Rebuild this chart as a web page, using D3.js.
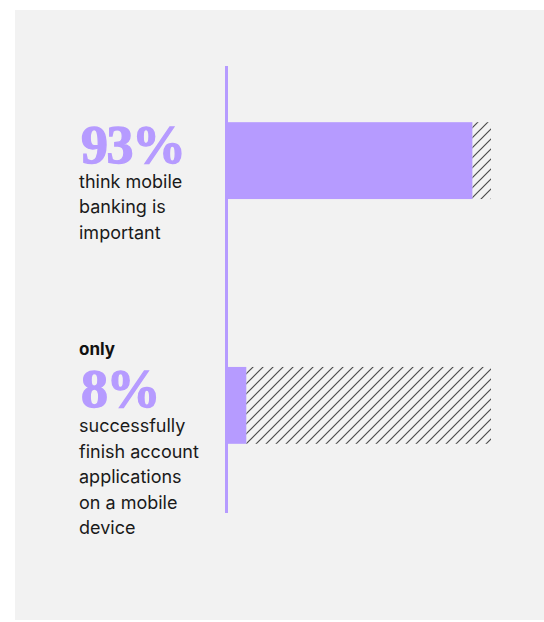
<!DOCTYPE html>
<html lang="en">
  <head>
    <meta charset="utf-8" />
    <title>Mobile banking</title>
    <script src="https://d3js.org/d3.v7.js"></script>
    <style>
      body { margin: 0; background: #fff; }
      text { font-family: Inter, "Noto Sans", sans-serif; }
      text.big { font-family: "Liberation Serif", "DejaVu Serif", serif; }
    </style>
  </head>
  <body>
    <div id="graph"></div>
    <script>

    // chart values
    var rows = ["important", "finish"];
    var percents = [93, 8];
    var prefixes = ["", "only"];
    var captions = [
      ["think mobile", "banking is", "important"],
      ["successfully", "finish account", "applications", "on a mobile", "device"]
    ];

    var w = 544, h = 622;
    var purple = "#b69bff";

    var svg = d3.select("#graph")
      .append("svg")
        .attr("width", w)
        .attr("height", h);

    // hatch pattern for the remainder of each bar
    var defs = svg.append("defs");
    var pat = defs.append("pattern")
      .attr("id", "hatch")
      .attr("patternUnits", "userSpaceOnUse")
      .attr("width", 10)
      .attr("height", 10);
    pat.append("path")
      .attr("d", "M-1,1 l2,-2 M0,10 l10,-10 M9,11 l2,-2")
      .attr("stroke", "#4a4a4a")
      .attr("stroke-width", 1.2);

    // gray panel
    svg.append("rect")
      .attr("x", 15)
      .attr("y", 10)
      .attr("width", w - 15)
      .attr("height", 610)
      .attr("fill", "#f2f2f2");

    // scales
    var x = d3.scaleLinear()
      .domain([0, 100])
      .range([225, 491]);

    var y = d3.scaleBand()
      .domain(rows)
      .range([61, 505])
      .paddingInner(0.686)
      .paddingOuter(0.25);

    // hatched remainder
    svg.selectAll("rect.rest")
      .data(rows)
      .join("rect")
        .attr("class", "rest")
        .attr("x", (d, i) => x(percents[i]))
        .attr("y", d => y(d))
        .attr("width", (d, i) => x(100) - x(percents[i]))
        .attr("height", y.bandwidth())
        .attr("fill", "url(#hatch)");

    // purple bars
    svg.selectAll("rect.bar")
      .data(rows)
      .join("rect")
        .attr("class", "bar")
        .attr("x", x(0))
        .attr("y", d => y(d))
        .attr("width", (d, i) => x(percents[i]) - x(0))
        .attr("height", y.bandwidth())
        .attr("fill", purple);

    // baseline
    svg.append("rect")
      .attr("x", x(0))
      .attr("y", 66)
      .attr("width", 3)
      .attr("height", 447)
      .attr("fill", purple);

    // labels
    rows.forEach(function(r, i) {
      var cy = y(r) + y.bandwidth() / 2;
      if (prefixes[i]) {
        svg.append("text")
          .attr("x", 79)
          .attr("y", cy - 50)
          .attr("font-size", 17)
          .attr("font-weight", 700)
          .attr("fill", "#111")
          .text(prefixes[i]);
      }
      svg.append("text")
        .attr("class", "big")
        .attr("x", 81)
        .attr("y", cy + 2)
        .attr("font-size", 54)
        .attr("font-weight", 700)
        .attr("letter-spacing", -1.5)
        .attr("fill", purple)
        .attr("stroke", purple)
        .attr("stroke-width", 1.3)
        .text(percents[i] + "%");
      captions[i].forEach(function(line, j) {
        svg.append("text")
          .attr("x", 79)
          .attr("y", cy + 27 + j * 25.5)
          .attr("font-size", 18)
          .attr("fill", "#1a1a1a")
          .text(line);
      });
    });

    </script>
  </body>
</html>
